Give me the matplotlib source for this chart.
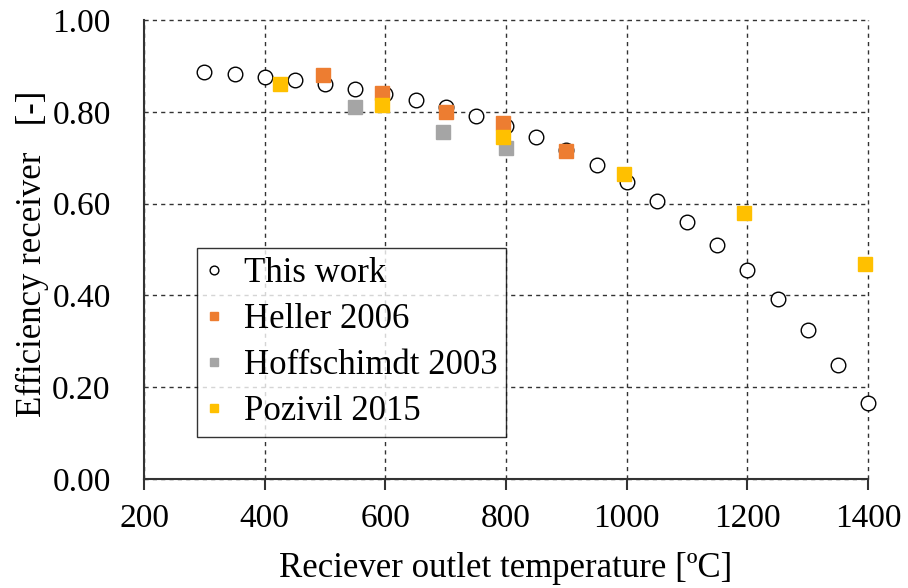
import matplotlib
matplotlib.use("Agg")
import matplotlib.pyplot as plt

plt.rcParams['font.family'] = ['Liberation Serif', 'DejaVu Serif']

this_x = [300, 350, 400, 450, 500, 550, 600, 650, 700, 750, 800, 850, 900, 950,
          1000, 1050, 1100, 1150, 1200, 1250, 1300, 1350, 1400]
this_y = [0.886, 0.882, 0.875, 0.869, 0.860, 0.849, 0.838, 0.825, 0.810, 0.790,
          0.770, 0.744, 0.716, 0.685, 0.648, 0.606, 0.560, 0.510, 0.455, 0.392,
          0.324, 0.249, 0.166]

heller_x = [497, 595, 700, 795, 900]
heller_y = [0.880, 0.840, 0.800, 0.775, 0.715]

hoff_x = [550, 695, 800]
hoff_y = [0.810, 0.757, 0.722]

poz_x = [425, 595, 795, 995, 1195, 1395]
poz_y = [0.860, 0.815, 0.745, 0.665, 0.580, 0.468]

xticks = [200, 400, 600, 800, 1000, 1200, 1400]
yticks = [0.0, 0.2, 0.4, 0.6, 0.8, 1.0]

fig = plt.figure(figsize=(9.08, 5.88), dpi=100)
ax = fig.add_axes([0.1586, 0.1854, 0.7974, 0.7806])

ax.plot(this_x, this_y, linestyle='none', marker='o', markersize=10.5,
        markerfacecolor='white', markeredgecolor='black', markeredgewidth=1.0,
        label='This work', zorder=3, clip_on=False)
ax.plot(heller_x, heller_y, linestyle='none', marker='s', markersize=9.5,
        color='#ED7D31', label='Heller 2006', zorder=4)
ax.plot(hoff_x, hoff_y, linestyle='none', marker='s', markersize=9.5,
        color='#A5A5A5', label='Hoffschimdt 2003', zorder=4)
ax.plot(poz_x, poz_y, linestyle='none', marker='s', markersize=9.5,
        color='#FFC000', label='Pozivil 2015', zorder=4, clip_on=False)

ax.set_xlim(200, 1400)
ax.set_ylim(0, 1.0)
ax.set_xticks(xticks)
ax.set_yticks(yticks)
ax.set_yticklabels([f"{v:.2f}" for v in yticks])
ax.tick_params(axis='both', labelsize=24)
ax.tick_params(axis='x', direction='out', length=8, width=1.5, pad=9.5,
               color='#333333')
ax.tick_params(axis='y', length=0, pad=24)
ax.grid(True, color='#333333', linestyle=(0, (3, 3)), linewidth=1.0)
for gl in ax.get_xgridlines() + ax.get_ygridlines():
    gl.set_clip_on(False)
ax.set_axisbelow(True)
for s in ['top', 'right']:
    ax.spines[s].set_visible(False)
for s in ['left', 'bottom']:
    ax.spines[s].set_linewidth(1.5)
    ax.spines[s].set_color('#333333')

ax.set_xlabel('Reciever outlet temperature [ºC]', fontsize=25)
ax.xaxis.set_label_coords(0.5, -0.159)
ax.set_ylabel('Efficiency receiver   [-]', fontsize=25)
ax.yaxis.set_label_coords(-0.131, 0.49)

leg = ax.legend(loc='lower left', bbox_to_anchor=(0.073, 0.0915), fontsize=25,
                frameon=True, fancybox=False, edgecolor='black',
                markerscale=0.6, handlelength=0.5, handletextpad=0.6,
                borderpad=0.25, labelspacing=0.38, borderaxespad=0)
leg.get_frame().set_linewidth(1.0)

fig.savefig('out.png', dpi=100)
